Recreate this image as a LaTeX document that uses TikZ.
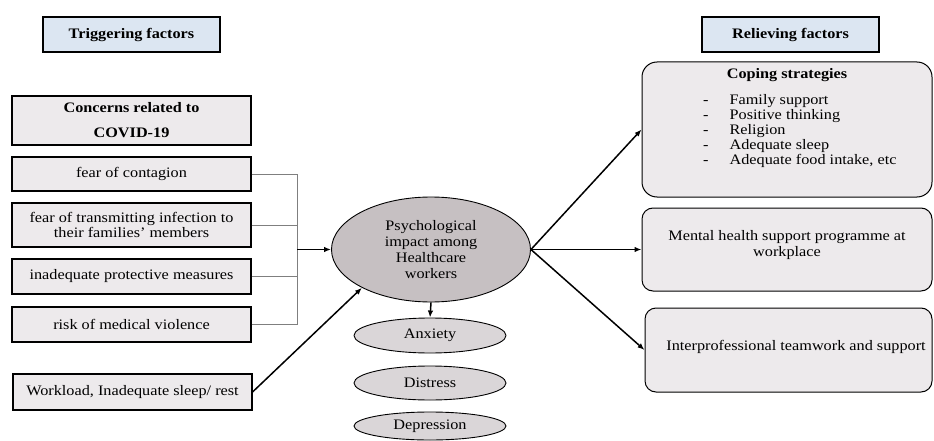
\documentclass[tikz,border=0pt]{standalone}
\usepackage{fontspec}
\setmainfont{Liberation Serif}[FakeStretch=1.12]
\usetikzlibrary{shapes.geometric,arrows.meta}
\definecolor{hdrblue}{HTML}{DCE6F2}
\definecolor{boxgray}{HTML}{EDEAEC}
\definecolor{ellmain}{HTML}{C6C0C2}
\definecolor{ellsmall}{HTML}{DAD6D8}
\definecolor{brgray}{HTML}{7F7F7F}
\tikzset{
  every node/.style={font=\fontsize{14.5}{15.5}\selectfont, inner sep=0pt},
  hdrbox/.style={draw=black, line width=1.1pt, fill=hdrblue, minimum width=177pt, minimum height=35pt, font=\fontsize{14.5}{15.5}\selectfont\bfseries},
  leftbox/.style={draw=black, line width=1.1pt, fill=boxgray, minimum width=239pt, align=center},
  rightbox/.style={draw=black, line width=1pt, fill=boxgray, rounded corners=11pt},
  mainell/.style={ellipse, draw=black, line width=0.9pt, fill=ellmain, minimum width=199pt, minimum height=105pt, align=center, font=\fontsize{14.5}{15.7}\selectfont},
  smallell/.style={ellipse, draw=black, line width=0.9pt, fill=ellsmall, minimum width=152pt, align=center},
  brline/.style={draw=brgray, line width=0.8pt},
  conn/.style={draw=black, line width=1.5pt, -{Latex[length=7pt,width=5.5pt]}}
}
\begin{document}
\begin{tikzpicture}[x=1pt,y=-1pt]
\useasboundingbox (0,0) rectangle (934,441);
% headers
\node[hdrbox] (trig) at (131.5,34.5) {Triggering factors};
\node[hdrbox] (reliev) at (790.5,34.5) {Relieving factors};
% left column
\node[leftbox, minimum height=49pt, font=\fontsize{14.5}{25}\selectfont\bfseries] (concern) at (131.5,120.5) {Concerns related to\\COVID-19};
\node[leftbox, minimum height=34pt] (b1) at (131.5,174) {fear of contagion};
\node[leftbox, minimum height=44pt, font=\fontsize{14.5}{15}\selectfont] (b2) at (131.5,225) {fear of transmitting infection to\\their families' members};
\node[leftbox, minimum height=35pt] (b3) at (131.5,276.5) {inadequate protective measures};
\node[leftbox, minimum height=35pt] (b4) at (131.5,324.5) {risk of medical violence};
\node[leftbox, minimum height=36pt] (work) at (132.5,392) {Workload, Inadequate sleep/ rest};
% centre
\node[mainell] (main) at (431,249.5) {Psychological\\impact among\\Healthcare\\workers};
\node[smallell, minimum height=35pt] (anx) at (430,335.5) {Anxiety};
\node[smallell, minimum height=34pt] (dis) at (430,383) {Distress};
\node[smallell, minimum height=28pt] (dep) at (430,426) {Depression};
% right column
\node[rightbox, rounded corners=15pt, minimum width=290pt, minimum height=135pt] (cope) at (787,129.5) {};
\node[font=\fontsize{14.5}{15.5}\selectfont\bfseries] (copet) at (787,75) {Coping strategies};
\node[anchor=north west, font=\fontsize{14.5}{15}\selectfont, align=left] (copel) at (703,93.5) {%
  \begin{tabular}{@{}l@{\hspace{21pt}}l@{}}
  - & Family support\\
  - & Positive thinking\\
  - & Religion\\
  - & Adequate sleep\\
  - & Adequate food intake, etc
  \end{tabular}};
\node[rightbox, minimum width=290pt, minimum height=83pt] (ment) at (787,249.5) {};
\node[align=center, font=\fontsize{14.5}{16}\selectfont] (mentt) at (787,245) {Mental health support programme at\\workplace};
\node[rightbox, minimum width=287pt, minimum height=84pt] (inter) at (788.5,350) {};
\node (intert) at (796,347) {Interprofessional teamwork and support};
% bracket
\coordinate (br) at (297,249.5);
\draw[brline] (b1.east) -- (b1.east -| br);
\draw[brline] (b2.east) -- (b2.east -| br);
\draw[brline] (b3.east) -- (b3.east -| br);
\draw[brline] (b4.east) -- (b4.east -| br);
\draw[brline] (b1.east -| br) -- (b4.east -| br);
% connectors
\draw[conn] (br) -- (main.west);
\draw[conn] (work.east) -- (main.209);
\draw[conn] (main.south) -- (anx.north);
\draw[conn] (main.east) -- (cope.west);
\draw[conn] (main.east) -- (ment.west);
\draw[conn] (main.east) -- (inter.west);
\end{tikzpicture}
\end{document}
